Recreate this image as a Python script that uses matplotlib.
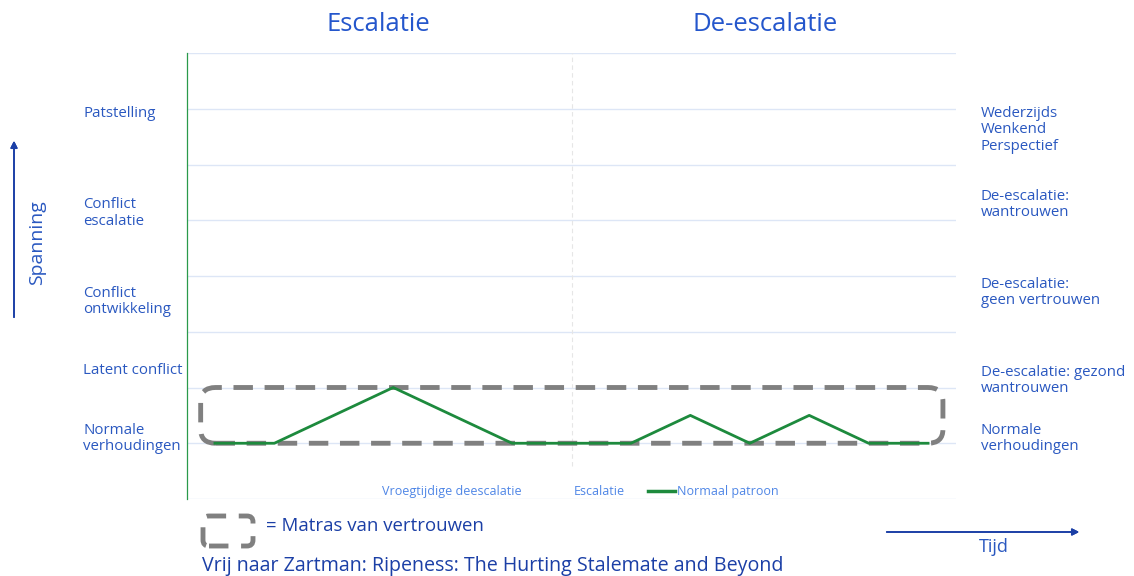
import matplotlib.pyplot as plt
from matplotlib.lines import Line2D
from matplotlib.patches import FancyBboxPatch
from matplotlib.transforms import IdentityTransform

plt.rcParams['font.family'] = ['Open Sans', 'DejaVu Sans']

# tijdstappen en spanningsniveau van het normale patroon
stappen = list(range(13))
normaal_patroon = [1, 1, 1.5, 2, 1.5, 1, 1, 1, 1.5, 1, 1.5, 1, 1]

# labels links (escalatie) en rechts (de-escalatie) met hun hoogte
links_labels = ['Patstelling', 'Conflict\nescalatie', 'Conflict\nontwikkeling',
                'Latent conflict', 'Normale\nverhoudingen']
links_y = [6.92, 5.13, 3.55, 2.30, 1.08]
rechts_labels = ['Wederzijds\nWenkend\nPerspectief', 'De-escalatie:\nwantrouwen',
                 'De-escalatie:\ngeen vertrouwen', 'De-escalatie: gezond\nwantrouwen',
                 'Normale\nverhoudingen']
rechts_y = [6.62, 5.29, 3.71, 2.13, 1.08]

fases = ['Escalatie', 'De-escalatie']
fase_x = [2.75, 9.25]
grens = 6  # overgang escalatie -> de-escalatie
matras = (1, 2)  # onder- en bovengrens van het matras van vertrouwen

blauw = '#2a58c0'
titelblauw = '#2456cc'
donkerblauw = '#1b3fa6'
lichtblauw = '#4f86e6'
groen = '#1d8a3d'
grijs = '#808080'

fig = plt.figure(figsize=(11.34, 5.76), dpi=100)
ax = fig.add_axes([187 / 1134, 77 / 576, 769 / 1134, 446 / 576])

ax.set_xlim(-0.47, 12.47)
ax.set_ylim(0, 8)
ax.set_yticks(range(9))
ax.set_xticks([])
ax.tick_params(left=False, labelleft=False)
ax.grid(axis='y', color='#dde6f6', linewidth=1)
for s in ['top', 'right', 'bottom']:
    ax.spines[s].set_visible(False)
ax.spines['left'].set_color('#2a9a4a')
ax.spines['left'].set_linewidth(0.9)

ax.vlines(grens, 0.6, 8, colors='#e6e6e6', linestyles=(0, (4, 3)), linewidth=0.8)

# matras van vertrouwen
box = FancyBboxPatch((-0.24, matras[0]), 12.49, matras[1] - matras[0],
                     boxstyle='round,pad=0,rounding_size=0.25', mutation_aspect=1.0,
                     fill=False, edgecolor=grijs, linewidth=3.5,
                     linestyle=(0, (4, 2.4)), capstyle='butt', zorder=3)
ax.add_patch(box)

ax.plot(stappen, normaal_patroon, color=groen, linewidth=2, zorder=4)

# legenda
handles = [Line2D([], [], color='none'), Line2D([], [], color='none'),
           Line2D([], [], color=groen, linewidth=2.5)]
leg = ax.legend(handles, ['Vroegtijdige deescalatie', 'Escalatie', 'Normaal patroon'],
                loc='center', bbox_to_anchor=(0.493, 0.016), ncol=3, frameon=False,
                fontsize=9, handlelength=2.1, handletextpad=0.15, columnspacing=1.9)
for t in leg.get_texts():
    t.set_color(lichtblauw)

for lab, y in zip(links_labels, links_y):
    ax.text(-0.135, y, lab, transform=ax.get_yaxis_transform(), color=blauw,
            fontsize=10.8, ha='left', va='center', linespacing=1.1)
for lab, y in zip(rechts_labels, rechts_y):
    ax.text(1.0325, y, lab, transform=ax.get_yaxis_transform(), color=blauw,
            fontsize=10.8, ha='left', va='center', linespacing=1.1)

for f, x in zip(fases, fase_x):
    ax.text(x, 1.065, f, transform=ax.get_xaxis_transform(), color=titelblauw,
            fontsize=18.5, ha='center', va='center')

# as-pijlen
fig.add_artist(plt.annotate('', xy=(14 / 1134, 1 - 138 / 576), xytext=(14 / 1134, 1 - 320 / 576),
                            xycoords='figure fraction',
                            arrowprops=dict(arrowstyle='-|>', color=donkerblauw, lw=1.2,
                                            mutation_scale=10)))
fig.text(37 / 1134, 1 - 243 / 576, 'Spanning', rotation=90, color=blauw,
         fontsize=14, ha='center', va='center')
fig.add_artist(plt.annotate('', xy=(1082 / 1134, 1 - 532 / 576), xytext=(884 / 1134, 1 - 532 / 576),
                            xycoords='figure fraction',
                            arrowprops=dict(arrowstyle='-|>', color=donkerblauw, lw=1.2,
                                            mutation_scale=10)))
fig.text(994 / 1134, 1 - 547 / 576, 'Tijd', color=blauw, fontsize=13,
         ha='center', va='center')

# symbool voor het matras
icoon = FancyBboxPatch((203, 576 - 546), 50, 30, boxstyle='round,pad=0,rounding_size=6',
                       fill=False, edgecolor=grijs, linewidth=3.5,
                       linestyle=(0, (4, 2.6)), capstyle='butt', transform=IdentityTransform())
fig.add_artist(icoon)
fig.text(266 / 1134, 1 - 526 / 576, '= Matras van vertrouwen', color=donkerblauw,
         fontsize=13.4, ha='left', va='center')
fig.text(202 / 1134, 1 - 566 / 576, 'Vrij naar Zartman: Ripeness: The Hurting Stalemate and Beyond',
         color=donkerblauw, fontsize=14.1, ha='left', va='center')

fig.savefig('out.png', dpi=100)
